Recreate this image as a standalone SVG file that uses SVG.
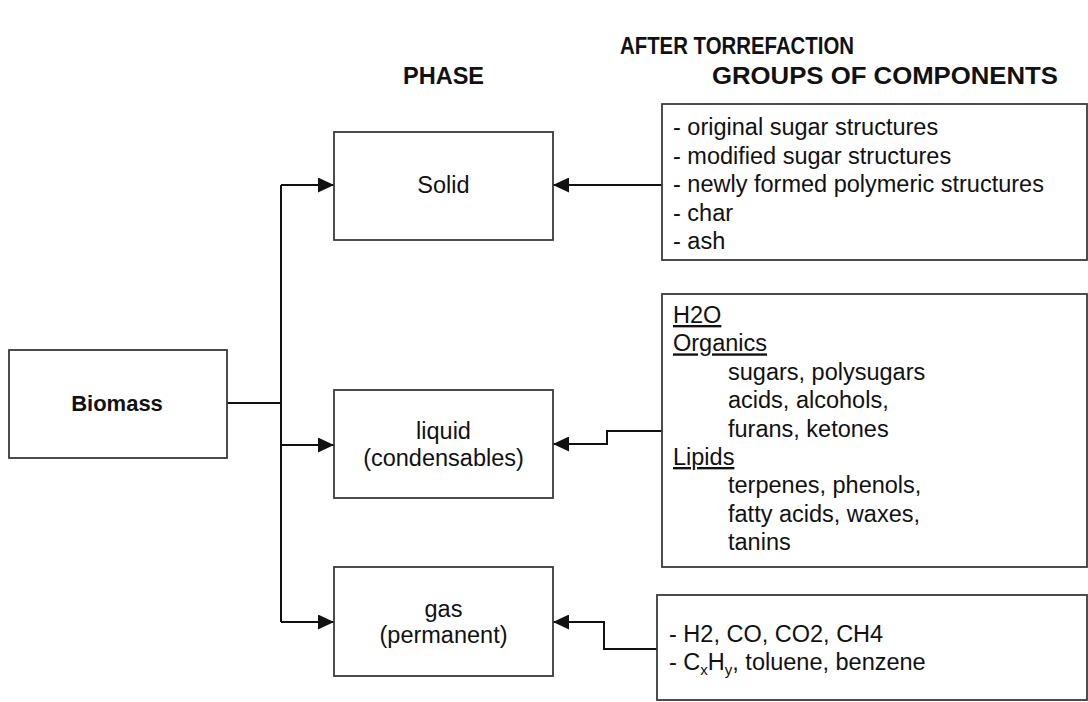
<svg xmlns="http://www.w3.org/2000/svg" width="1088" height="702" viewBox="0 0 1088 702">
<style>
text{font-family:"Liberation Sans",Arial,sans-serif;fill:#111}
.hdr{font-weight:bold}
.t{font-size:23.5px}
.c{text-anchor:middle}
.box{fill:#fff;stroke:#3a3a3a;stroke-width:1.8}
.ln{fill:none;stroke:#111;stroke-width:2}
.u{text-decoration:underline}
</style>
<defs>
<marker id="ah" viewBox="0 0 16 15" refX="16" refY="7.5" markerWidth="16" markerHeight="15" markerUnits="userSpaceOnUse" orient="auto">
<path d="M0,0 L16,7.5 L0,15 z" fill="#111"/>
</marker>
</defs>
<rect width="1088" height="702" fill="#fff"/>
<g id="headers">
<text class="hdr" x="620" y="54" font-size="23" textLength="234" lengthAdjust="spacingAndGlyphs">AFTER TORREFACTION</text>
<text class="hdr" x="403" y="84" font-size="23" textLength="81" lengthAdjust="spacingAndGlyphs">PHASE</text>
<text class="hdr" x="712" y="84" font-size="23" textLength="346" lengthAdjust="spacingAndGlyphs">GROUPS OF COMPONENTS</text>
</g>
<g id="connectors">
<path class="ln" d="M227,403 H281"/>
<path class="ln" d="M281,185 V622"/>
<path class="ln" d="M281,185 H334" marker-end="url(#ah)"/>
<path class="ln" d="M281,445 H334" marker-end="url(#ah)"/>
<path class="ln" d="M281,622 H334" marker-end="url(#ah)"/>
<path class="ln" d="M662,185 H553" marker-end="url(#ah)"/>
<path class="ln" d="M662,431 H607 V444 H553" marker-end="url(#ah)"/>
<path class="ln" d="M657,649 H604 V622 H553" marker-end="url(#ah)"/>
</g>
<g id="biomass">
<rect class="box" x="9" y="350" width="218" height="108"/>
<text class="c" x="117" y="411" style="font-size:22px;font-weight:bold">Biomass</text>
</g>
<g id="solid">
<rect class="box" x="334" y="132" width="219" height="108"/>
<text class="t c" x="443.5" y="193">Solid</text>
</g>
<g id="liquid">
<rect class="box" x="334" y="390" width="219" height="108"/>
<text class="t c" x="443.5" y="439">liquid</text>
<text class="t c" x="443.5" y="466">(condensables)</text>
</g>
<g id="gas">
<rect class="box" x="334" y="567" width="219" height="109"/>
<text class="t c" x="443.5" y="617">gas</text>
<text class="t c" x="443.5" y="643">(permanent)</text>
</g>
<g id="solid-components">
<rect class="box" x="662" y="104" width="425" height="156"/>
<text class="t" x="673" y="135">- original sugar structures</text>
<text class="t" x="673" y="163.5">- modified sugar structures</text>
<text class="t" x="673" y="192">- newly formed polymeric structures</text>
<text class="t" x="673" y="220.5">- char</text>
<text class="t" x="673" y="249">- ash</text>
</g>
<g id="liquid-components">
<rect class="box" x="662" y="294" width="425" height="273"/>
<text class="t u" x="673" y="323">H2O</text>
<text class="t u" x="673" y="351.4">Organics</text>
<text class="t" x="728" y="379.8">sugars, polysugars</text>
<text class="t" x="728" y="408.2">acids, alcohols,</text>
<text class="t" x="728" y="436.6">furans, ketones</text>
<text class="t u" x="673" y="465">Lipids</text>
<text class="t" x="728" y="493.4">terpenes, phenols,</text>
<text class="t" x="728" y="521.8">fatty acids, waxes,</text>
<text class="t" x="728" y="550.2">tanins</text>
</g>
<g id="gas-components">
<rect class="box" x="657" y="595" width="430" height="105"/>
<text class="t" x="669" y="642">- H2, CO, CO2, CH4</text>
<text class="t" x="669" y="670">- C<tspan font-size="15" dy="5">x</tspan><tspan dy="-5">H</tspan><tspan font-size="15" dy="5">y</tspan><tspan dy="-5">, toluene, benzene</tspan></text>
</g>
</svg>
